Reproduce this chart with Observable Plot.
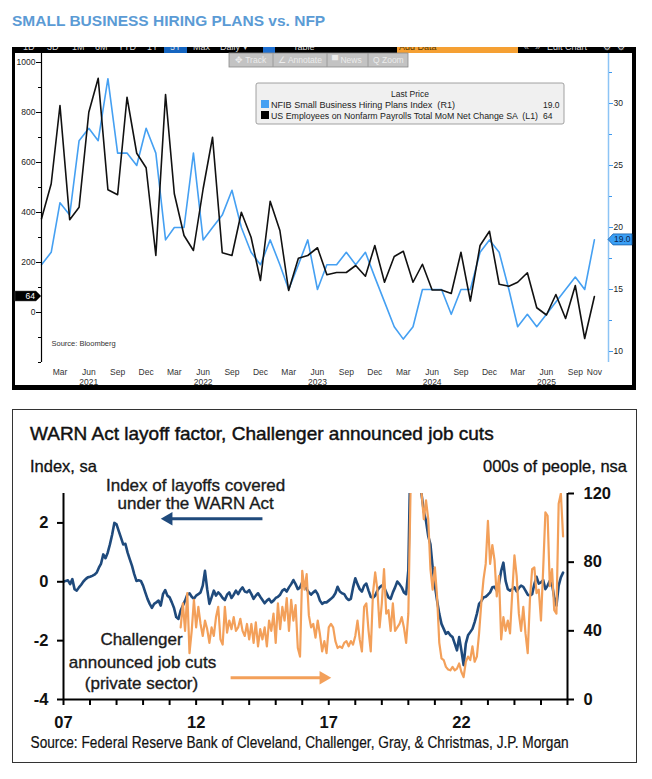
<!DOCTYPE html>
<html>
<head>
<meta charset="utf-8">
<script src="https://cdn.jsdelivr.net/npm/d3@7"></script>
<script src="https://cdn.jsdelivr.net/npm/@observablehq/plot@0.6"></script>
<style>
html,body{margin:0;padding:0;background:#fff}
#page{position:relative;width:652px;height:779px;overflow:hidden;background:#fff}
.abs{position:absolute}
svg text{white-space:pre}
</style>
</head>
<body>
<div id="page">
  <div class="abs" style="left:12px;top:47px;width:624px;height:343px;background:#000"></div>
  <div id="c1" class="abs" style="left:15px;top:53px;width:617px;height:332px"></div>
  <div class="abs" style="left:12px;top:409px;width:623px;height:352px;border:1.5px solid #333;background:#fff"></div>
  <div id="c2" class="abs" style="left:11px;top:470px;width:627px;height:266px"></div>
  <svg id="ov" class="abs" width="652" height="779" style="left:0;top:0;pointer-events:none"></svg>
</div>
<script>
// ---------------- Chart 1 data (monthly, Jan 2021 .. Nov 2025) ----------------
const nfib = [17,18,22,21,27,28,27,32,26,26,
              25,28,26,19,20,20,26,19,20,21,
              23,20,18,17,19,17,15,17,19,15,
              17,17,18,17,18,16,14,12,11,12,
              15,15,15,13,15,15,18,19,18,15,
              12,13,12,13,14,15,16,15,19];
const nfp = [375,515,828,371,421,801,937,491,471,861,
             637,579,228,872,475,308,248,495,701,239,
             228,401,301,128,445,328,88,217,228,259,
             151,160,160,188,145,268,121,224,245,121,
             193,90,90,76,241,46,268,325,113,105,
             121,159,19,-10,72,-24,108,-104,64];
const leftTicks1 = [0, 200, 400, 600, 800, 1000];
const leftMinor1 = [-200, -100, 100, 300, 500, 700, 900];
const rightTicks1 = [10, 15, 20, 25, 30];
const rightMinor1 = [12.5, 17.5, 22.5, 27.5, 32.5];
const monthLabelMonths = [2, 5, 8, 11]; // Mar Jun Sep Dec
const years1 = [2021, 2022, 2023, 2024, 2025];

// ---------------- Chart 2 data (monthly) ----------------
const warnStart = 2007; // Jan 2007
const warn = [0,0.03,0.05,-0.08,0.09,-0.25,-0.3,-0.19,-0.1,0.01,
  0.09,0.15,0.17,0.2,0.24,0.31,0.48,0.62,0.93,0.8,
  0.99,1.27,1.6,2.0,1.95,1.72,1.5,1.27,1.29,0.99,
  0.76,0.54,0.26,0.03,0.05,0.03,-0.13,-0.36,-0.58,-0.75,
  -0.89,-0.75,-0.7,-0.64,-0.81,-0.42,-0.28,-0.47,-0.53,-0.7,
  -0.89,-1.2,-1.26,-0.98,-0.81,-0.64,-0.44,-0.39,-0.51,-0.58,
  -0.47,-0.42,-0.36,-0.13,0.37,-0.25,-0.75,-0.53,-0.3,-0.47,
  -0.36,-0.44,-0.55,-0.62,-0.44,-0.36,-0.55,-0.44,-0.3,-0.42,
  -0.28,-0.19,-0.33,-0.36,-0.28,-0.42,-0.58,-0.47,-0.39,-0.51,
  -0.62,-0.73,-0.64,-0.58,-0.7,-0.64,-0.55,-0.51,-0.44,-0.3,
  -0.25,-0.33,-0.19,-0.08,0.06,-0.08,-0.25,-0.19,-0.02,-0.13,
  -0.25,-0.36,-0.44,-0.36,-0.3,-0.42,-0.64,-0.75,-0.7,-0.7,
  -0.64,-0.58,-0.51,-0.39,-0.17,-0.33,-0.39,-0.42,-0.55,-0.62,
  -0.58,-0.19,0.12,-0.08,-0.25,-0.33,-0.13,-0.06,-0.3,-0.51,
  -0.55,-0.47,-0.3,-0.19,-0.13,-0.17,-0.36,-0.53,-0.58,-0.36,
  -0.19,0.01,-0.08,-0.19,-0.36,-0.42,0.4,4.5,6,5.2,
  4.2,3.6,2.96,2.39,2.06,1.55,1.27,0.48,-0.13,-0.64,
  -1.09,-1.43,-1.6,-1.77,-1.71,-1.82,-1.88,-2.1,-2.33,-1.88,
  -2.33,-2.83,-2.1,-1.82,-1.71,-1.6,-1.37,-1.09,-0.75,-0.66,
  -0.53,-0.51,-0.44,-0.36,-0.19,-0.17,-0.3,-0.08,0.37,0.65,
  0.03,-0.25,-0.3,-0.25,-0.19,-0.33,-0.21,-0.13,-0.17,-0.3,
  -0.44,-0.47,-0.42,-0.08,0.17,-0.06,-0.02,0.06,-0.25,-0.13,
  0.03,-0.08,-0.53,-0.81,-0.13,0.15,0.31];
const chalStart = 2007 + 53 / 12; // Jun 2011
const chal = [42,56,40,62,27,40,58,42,54,44,
  37,46,41,33,42,37,48,54,35,32,
  54,39,46,41,48,40,42,47,40,37,
  44,35,44,33,45,31,41,35,42,31,
  46,40,50,33,56,41,54,46,59,40,
  58,46,55,30,25,75,64,73,49,42,
  44,36,46,38,28,34,27,42,44,42,
  34,30,31,30,33,34,31,34,32,37,
  46,35,28,54,56,40,28,62,74,64,
  42,56,76,50,52,40,56,40,42,44,
  48,42,33,50,122,150,140,130,125,120,
  105,116,105,76,64,77,60,33,24,23,
  19,17.5,17,19,17,18,21,16,13,22,
  25,23,31,22,25,38.5,56,70,79,104,
  79,90,81,60,72,35,48,40,46,38.5,
  62,84,72,50,40,54,38.5,27,58,76,
  77,62,64,46,76,109,107,66,76,52,
  50,114,120,95];
const leftTicks2 = [-4, -2, 0, 2];
const rightTicks2 = [0, 40, 80, 120];
const yearTicks2 = d3.range(2007, 2027);
const yearLabels2 = [2007, 2012, 2017, 2022];

// ---------------- styles ----------------
const FONT = "Liberation Sans, Arial, Helvetica, sans-serif";
const BLUE1 = "#45a0f2";
const NAVY = "#1f4a7c";
const ORANGE = "#f3a05a";

// ---------------- Chart 1 ----------------
const toL = v => 49.6 * (v - 10) - 156;        // right (NFIB) units -> left (NFP) units
const fromL = y => (y + 156) / 49.6 + 10;
const rows1 = nfp.map((v, i) => ({date: new Date(Date.UTC(2021, i, 1)), nfp: v, nfib: nfib[i]}));
const xStart1 = new Date(Date.UTC(2021, 0, 1));
const xEnd1 = new Date(Date.UTC(2025, 11, 16));
const monthTicks = [];
for (const y of years1) for (const m of monthLabelMonths) {
  if (y === 2025 && m === 11) continue;
  monthTicks.push(new Date(Date.UTC(y, m, 1)));
}
monthTicks.push(new Date(Date.UTC(2025, 10, 1)));
const yearTicks1 = years1.map(y => new Date(Date.UTC(y, 5, 1)));

const p1 = Plot.plot({
  width: 617, height: 332,
  marginLeft: 26, marginRight: 24, marginTop: 0, marginBottom: 23,
  style: {background: "#fff", fontFamily: FONT, fontSize: "8.5px", color: "#222", overflow: "visible"},
  x: {type: "utc", domain: [xStart1, xEnd1], axis: null},
  y: {domain: [-200, 1036], axis: null},
  marks: [
    Plot.ruleX([xEnd1], {stroke: "#8cc4f5", strokeWidth: 1.5}),
    Plot.line(rows1, {x: "date", y: d => toL(d.nfib), stroke: BLUE1, strokeWidth: 1.6}),
    Plot.line(rows1, {x: "date", y: "nfp", stroke: "#111", strokeWidth: 1.6}),
    Plot.ruleX([xStart1], {stroke: "#000", strokeWidth: 1.2}),
    Plot.axisY(leftTicks1, {anchor: "left", label: null, tickSize: 5, tickPadding: 1, fontSize: 8.5, stroke: "#000", fill: "#222", tickFormat: d => String(d)}),
    Plot.axisY(leftMinor1, {anchor: "left", label: null, tickSize: 3, stroke: "#000", tickFormat: () => ""}),
    Plot.axisY(rightTicks1.map(toL), {anchor: "right", label: null, tickSize: 4, tickPadding: 1, fontSize: 8.5, stroke: "#3d98ee", fill: "#222", tickFormat: d => String(Math.round(fromL(d)))}),
    Plot.axisY(rightMinor1.map(toL), {anchor: "right", label: null, tickSize: 3, stroke: "#3d98ee", tickFormat: () => ""}),
    Plot.axisX(monthTicks, {anchor: "bottom", label: null, tickSize: 0, tickPadding: 6, fontSize: 8.5, fill: "#333", tickFormat: d3.utcFormat("%b")}),
    Plot.axisX(yearTicks1, {anchor: "bottom", label: null, tickSize: 0, tickPadding: 16.5, fontSize: 8.5, fill: "#333", tickFormat: d3.utcFormat("%Y")}),
    Plot.text(["Source: Bloomberg"], {frameAnchor: "bottom-left", dx: 10, dy: -19, lineAnchor: "middle", textAnchor: "start", fontSize: 7.5, fill: "#333"})
  ]
});
document.getElementById("c1").appendChild(p1);

// ---------------- Chart 2 ----------------
const toL2 = v => -4 + v * 7 / 120;
const fromL2 = y => (y + 4) * 120 / 7;
const warnData = warn.map((v, i) => ({x: warnStart + i / 12, v}));
const chalData = chal.map((v, i) => ({x: chalStart + i / 12, v}));
const notes = [
  {x: 2011.98, y: 3.26, text: "Index of layoffs covered"},
  {x: 2011.98, y: 2.65, text: "under the WARN Act"},
  {x: 2009.94, y: -1.97, text: "Challenger"},
  {x: 2009.98, y: -2.75, text: "announced job cuts"},
  {x: 2009.94, y: -3.47, text: "(private sector)"}
];
const arrows = [
  {x1: 2014.50, x2: 2011.03, y: 2.14, hx: 2010.96, rot: -90, color: NAVY},
  {x1: 2013.30, x2: 2016.69, y: -3.26, hx: 2016.80, rot: 90, color: ORANGE}
];

const p2 = Plot.plot({
  width: 627, height: 266,
  marginLeft: 52, marginRight: 71, marginTop: 23, marginBottom: 37,
  style: {background: "transparent", fontFamily: FONT, fontSize: "16px", color: "#111", overflow: "visible"},
  x: {domain: [2007, 2026], axis: null},
  y: {domain: [-4, 3], axis: null},
  marks: [
    Plot.line(warnData, {x: "x", y: "v", stroke: NAVY, strokeWidth: 2.6, clip: true}),
    Plot.line(chalData, {x: "x", y: d => toL2(d.v), stroke: ORANGE, strokeWidth: 2.2, clip: true}),
    Plot.ruleX([2007], {stroke: "#000", strokeWidth: 2}),
    Plot.ruleX([2026], {stroke: "#000", strokeWidth: 2}),
    Plot.ruleY([-4], {stroke: "#000", strokeWidth: 2}),
    Plot.axisY(leftTicks2, {anchor: "left", label: null, tickSize: 6, tickPadding: 9, strokeWidth: 2, stroke: "#000", fill: "#111", fontSize: 16.5, fontWeight: "bold", tickFormat: d => String(d)}),
    Plot.axisY(rightTicks2.map(toL2), {anchor: "right", label: null, tickSize: 6, tickPadding: 10, strokeWidth: 2, stroke: "#000", fill: "#111", fontSize: 16.5, fontWeight: "bold", tickFormat: d => String(Math.round(fromL2(d)))}),
    Plot.axisX(yearTicks2, {anchor: "bottom", label: null, tickSize: 6, strokeWidth: 2, stroke: "#000", tickFormat: () => ""}),
    Plot.axisX(yearLabels2, {anchor: "bottom", label: null, tickSize: 0, tickPadding: 17, fill: "#111", fontSize: 16.5, fontWeight: "bold", tickFormat: d => String(d).slice(2)}),
    Plot.text(notes, {x: "x", y: "y", text: "text", fontSize: 17, fill: "#1a1a1a", stroke: "#1a1a1a", strokeWidth: 0.35, lineAnchor: "middle"}),
    Plot.link(arrows, {x1: "x1", x2: "x2", y1: "y", y2: "y", stroke: "color", strokeWidth: 3}),
    Plot.dot(arrows, {x: "hx", y: "y", symbol: "triangle", r: 5, fill: "color", stroke: "none", rotate: "rot"})
  ]
});
document.getElementById("c2").appendChild(p2);

// ---------------- overlay (titles, toolbar, legend, value tags) ----------------
const ov = d3.select("#ov");
function txt(parent, x, cy, s, o = {}) {
  const fs = o.size || 12;
  const t = parent.append("text")
    .attr("font-family", o.family || FONT).attr("font-size", fs)
    .attr("font-weight", o.weight || "normal").attr("fill", o.fill || "#111")
    .attr("text-anchor", o.anchor || "start").text(s);
  if (o.sx) {
    t.attr("x", 0).attr("y", 0).attr("transform", `translate(${x},${cy + 0.36 * fs}) scale(${o.sx},1)`);
  } else {
    t.attr("x", x).attr("y", cy + 0.36 * fs);
  }
  if (o.len) t.attr("textLength", o.len).attr("lengthAdjust", "spacingAndGlyphs");
  if (o.thick) t.attr("stroke", o.fill || "#111").attr("stroke-width", o.thick);
  return t;
}
// chart 1 title
txt(ov, 12, 20, "SMALL BUSINESS HIRING PLANS vs. NFP", {size: 15.5, weight: "bold", fill: "#5b9bd5"});

// Bloomberg toolbar strip (mostly cut off)
ov.append("defs").append("clipPath").attr("id", "tbclip").append("rect")
  .attr("x", 12).attr("y", 47).attr("width", 624).attr("height", 6);
const tb = ov.append("g").attr("clip-path", "url(#tbclip)");
tb.append("rect").attr("x", 164).attr("y", 40).attr("width", 23).attr("height", 13).attr("fill", "#1565c0");
tb.append("rect").attr("x", 263).attr("y", 40).attr("width", 12).attr("height", 13).attr("fill", "#1e6fd0");
tb.append("rect").attr("x", 397).attr("y", 40).attr("width", 121).attr("height", 13).attr("fill", "#f5a033");
[["1D",23],["3D",47],["1M",72],["6M",95],["YTD",118],["1Y",147],["5Y",170],["Max",193],["Daily ▾",220],["Table",293],["«",524],["»",535],["Edit Chart",547],["⚙",603],["⚙",617]]
  .forEach(([s, x]) => txt(tb, x, 47, s, {size: 9, fill: "#d8d8d8"}));
txt(tb, 399, 47, "Add Data", {size: 9, fill: "#5a3a00"});

// Track / Annotate / News / Zoom box
ov.append("rect").attr("x", 229).attr("y", 53).attr("width", 179).attr("height", 14)
  .attr("fill", "#c3c3c3").attr("stroke", "#8a8a8a").attr("stroke-width", 0.8);
[273, 327, 368].forEach(x => ov.append("line").attr("x1", x).attr("x2", x).attr("y1", 53).attr("y2", 67).attr("stroke", "#9a9a9a"));
[["✥ Track", 235], ["∠ Annotate", 278], ["▀ News", 332], ["Q Zoom", 373]]
  .forEach(([s, x]) => txt(ov, x, 60, s, {size: 8.5, fill: "#ececec"}));

// legend box
ov.append("rect").attr("x", 256).attr("y", 83).attr("width", 308).attr("height", 41).attr("rx", 2)
  .attr("fill", "#f0f0f0").attr("stroke", "#8c8c8c").attr("stroke-width", 0.8);
txt(ov, 410, 94, "Last Price", {size: 8.5, anchor: "middle", fill: "#222"});
ov.append("rect").attr("x", 261).attr("y", 100).attr("width", 8).attr("height", 8).attr("fill", BLUE1);
ov.append("rect").attr("x", 261).attr("y", 111).attr("width", 8).attr("height", 8).attr("fill", "#000");
txt(ov, 271, 104.5, "NFIB Small Business Hiring Plans Index  (R1)", {size: 8.5, fill: "#222", len: 184});
txt(ov, 271, 115.5, "US Employees on Nonfarm Payrolls Total MoM Net Change SA  (L1)", {size: 8.5, fill: "#222", len: 267});
txt(ov, 543, 104.5, "19.0", {size: 8.5, fill: "#222"});
txt(ov, 543, 115.5, "64", {size: 8.5, fill: "#222"});

// value tags using the chart's own y scale
const sy1 = p1.scale("y");
const yNfp = 53 + sy1.apply(nfp[nfp.length - 1]);
const yNfib = 53 + sy1.apply(toL(nfib[nfib.length - 1]));
ov.append("path").attr("d", `M15,${yNfp - 5}H36L41,${yNfp}L36,${yNfp + 5}H15Z`).attr("fill", "#000").attr("stroke", "#555").attr("stroke-width", 0.5);
txt(ov, 35, yNfp, String(nfp[nfp.length - 1]), {size: 8.5, fill: "#fff", anchor: "end"});
ov.append("path").attr("d", `M608,${yNfib}L613,${yNfib - 5.5}H632V${yNfib + 5.5}H613Z`).attr("fill", "#3b9ff5").attr("stroke", "#1a5fa8").attr("stroke-width", 0.8);
txt(ov, 614, yNfib, nfib[nfib.length - 1].toFixed(1), {size: 8.5, fill: "#0b2550"});

// chart 2 header & source
txt(ov, 30, 433, "WARN Act layoff factor, Challenger announced job cuts", {size: 19, fill: "#111", thick: 0.45});
txt(ov, 30, 466, "Index, sa", {size: 16.5, fill: "#111", thick: 0.3});
txt(ov, 627, 466, "000s of people, nsa", {size: 16.5, fill: "#111", anchor: "end", thick: 0.3});
txt(ov, 30.5, 742, "Source: Federal Reserve Bank of Cleveland, Challenger, Gray, & Christmas, J.P. Morgan", {size: 16.5, fill: "#111", sx: 0.83, thick: 0.2});
</script>
</body>
</html>
